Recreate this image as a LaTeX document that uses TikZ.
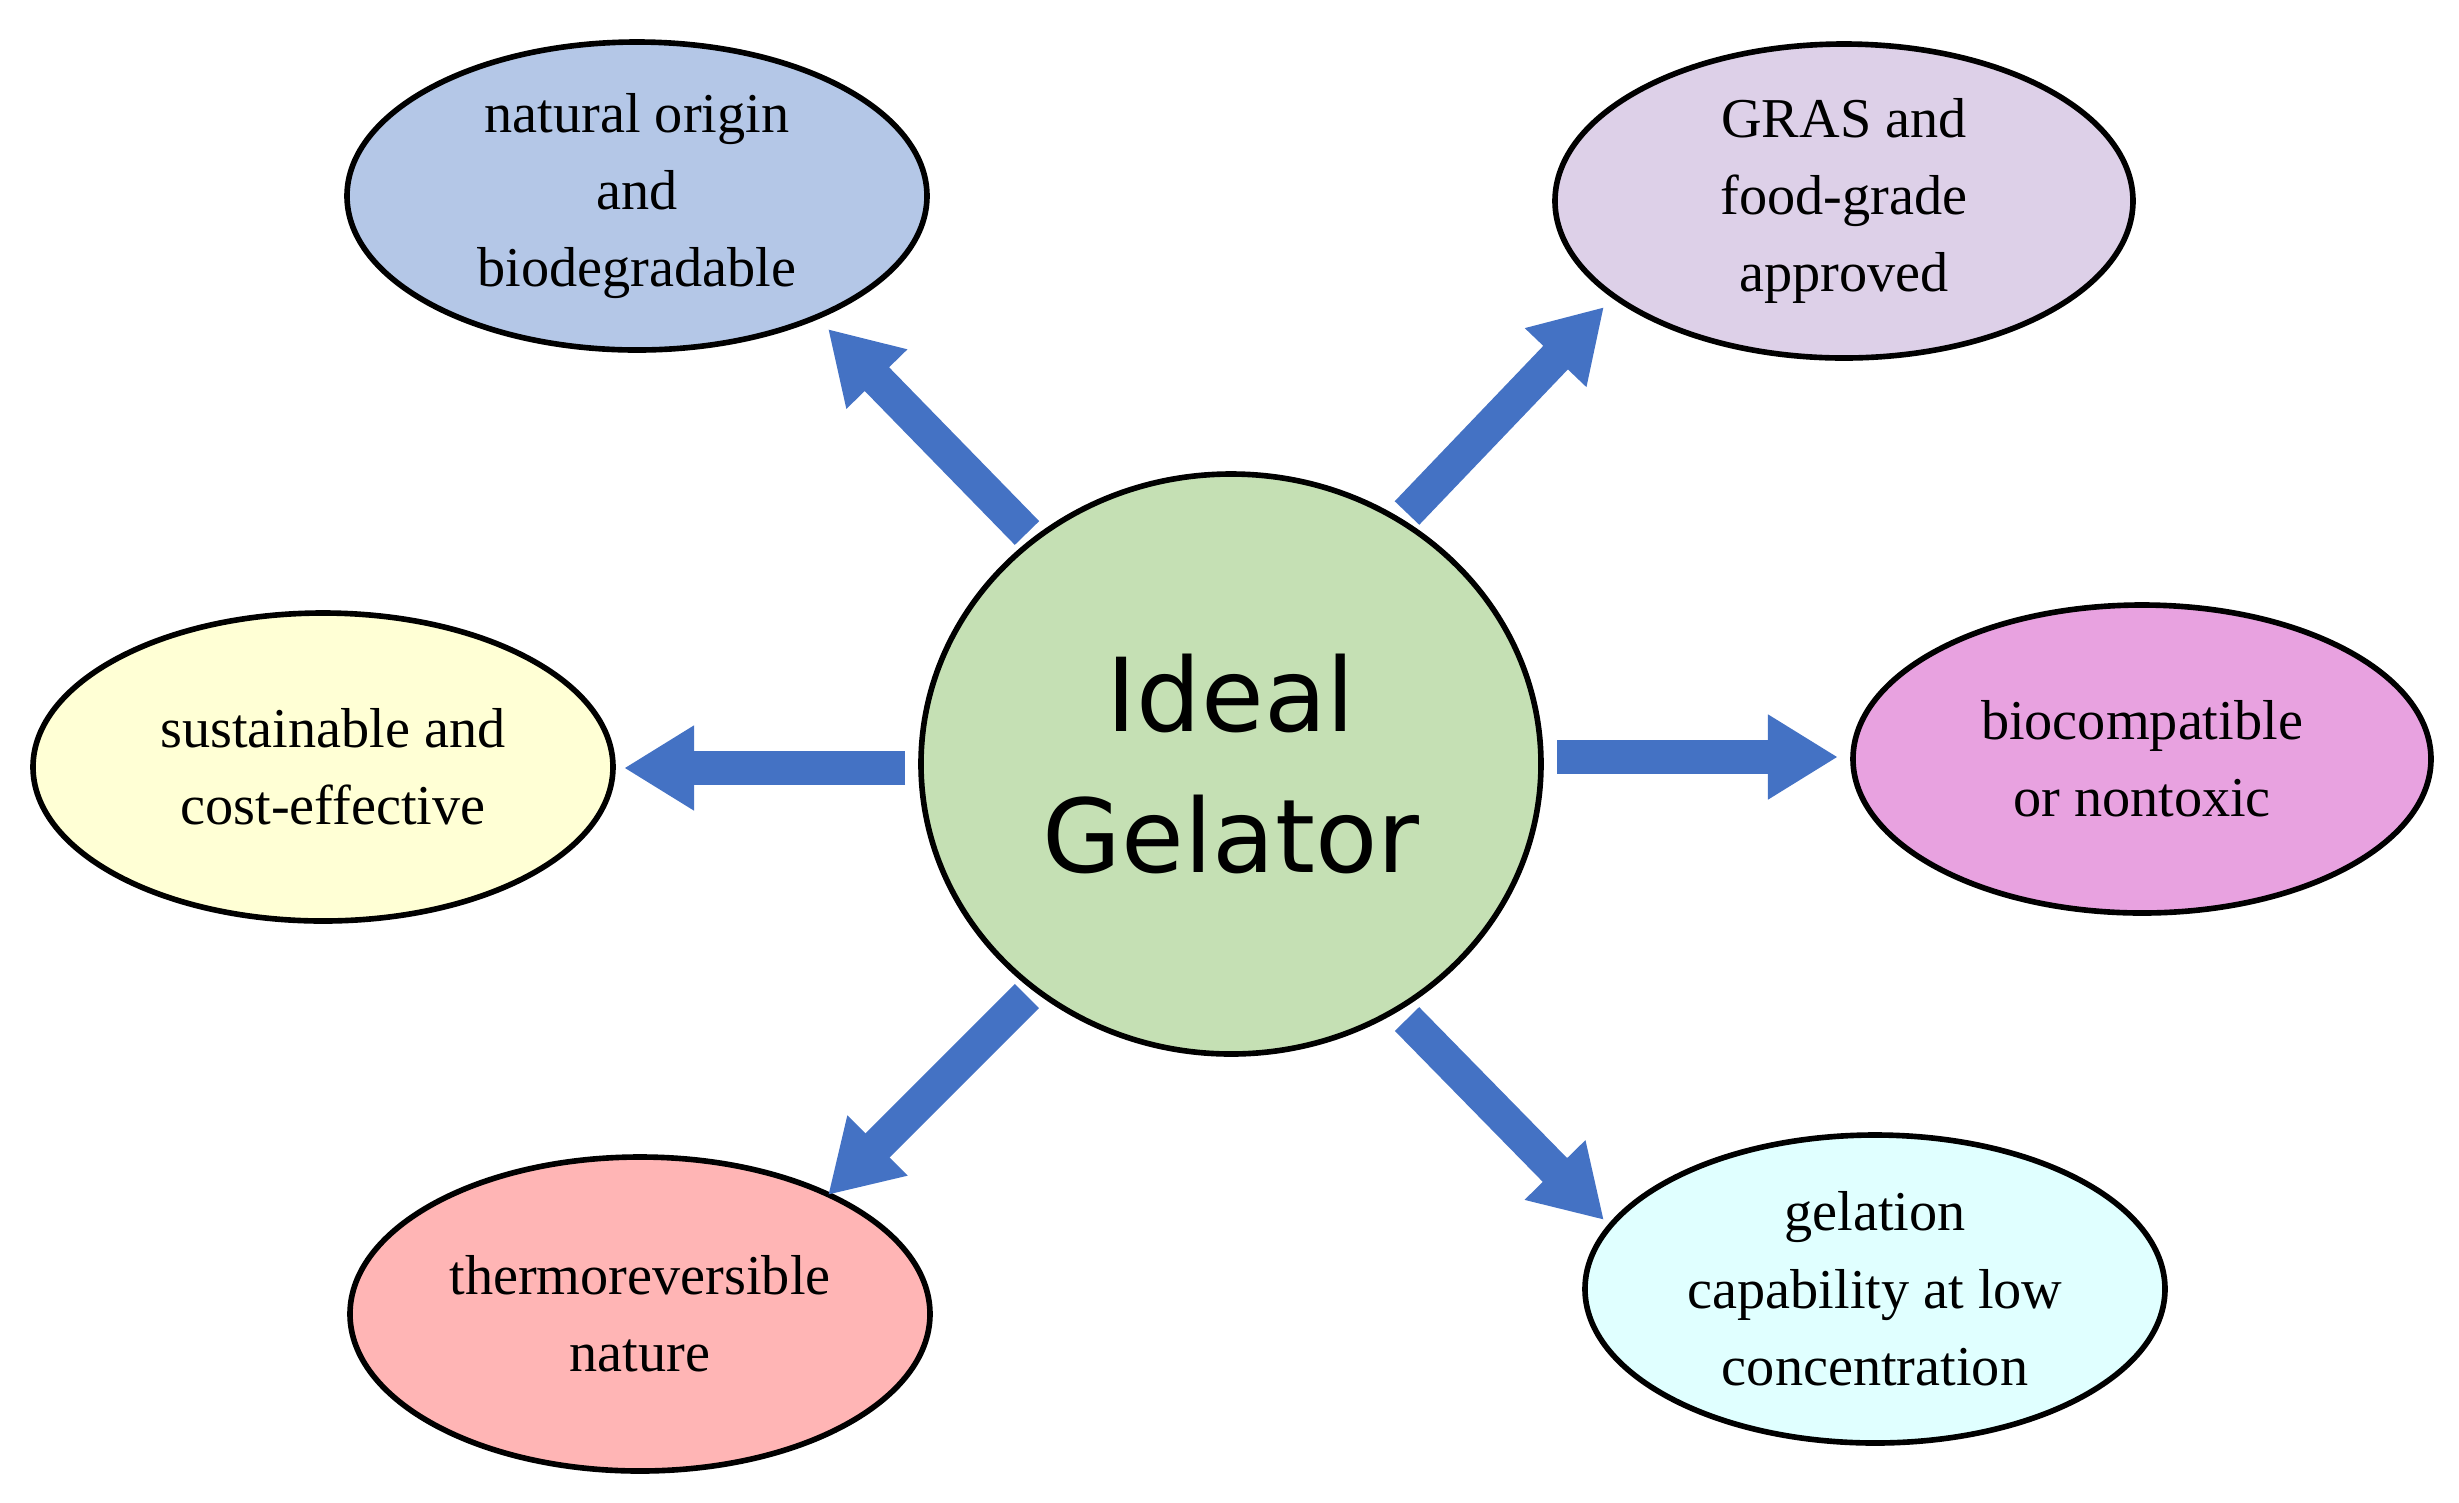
\documentclass[tikz,border=0pt]{standalone}
\usepackage{fontspec}
\setmainfont{Liberation Serif}
\newfontfamily\cen{DejaVu Sans}
\usetikzlibrary{arrows.meta}
\definecolor{ab}{HTML}{4472C4}
\tikzset{
 el/.style={draw=black, line width=1.6pt, ellipse, inner sep=0pt, align=center,
   font=\fontsize{16pt}{22pt}\selectfont},
 ar/.style={draw=ab, line width=0.34cm, -{Triangle[length=0.7cm,width=0.8cm]}, shorten >=0pt}
}
\begin{document}
\begin{tikzpicture}[x=0.01cm,y=-0.01cm]
\useasboundingbox (0,0) rectangle (2459,1502);
\draw[fill={rgb,255:red,197;green,224;blue,180}, line width=1.6pt] (1231,764) ellipse [x radius=310, y radius=290];
\node[align=center, font=\cen\fontsize{29pt}{40pt}\selectfont] (c) at (1231,764) {Ideal\\Gelator};
\draw[fill={rgb,255:red,180;green,199;blue,231}, line width=1.6pt] (637,196) ellipse [x radius=290, y radius=154];
\node[align=center,font=\fontsize{16pt}{22pt}\selectfont] (tl) at (637,196) {natural origin\\and\\biodegradable};
\draw[fill={rgb,255:red,221;green,208;blue,232}, line width=1.6pt] (1844,201) ellipse [x radius=289, y radius=157];
\node[align=center,font=\fontsize{16pt}{22pt}\selectfont] (tr) at (1844,201) {GRAS and\\food-grade\\approved};
\draw[fill={rgb,255:red,255;green,255;blue,213}, line width=1.6pt] (323,767) ellipse [x radius=290, y radius=154];
\node[align=center,font=\fontsize{16pt}{22pt}\selectfont] (l) at (333,767) {sustainable and\\cost-effective};
\draw[fill={rgb,255:red,232;green,162;blue,224}, line width=1.6pt] (2142,759) ellipse [x radius=289, y radius=154];
\node[align=center,font=\fontsize{16pt}{22pt}\selectfont] (r) at (2142,759) {biocompatible\\or nontoxic};
\draw[fill={rgb,255:red,255;green,181;blue,181}, line width=1.6pt] (640,1314) ellipse [x radius=290, y radius=157];
\node[align=center,font=\fontsize{16pt}{22pt}\selectfont] (bl) at (640,1314) {thermoreversible\\nature};
\draw[fill={rgb,255:red,224;green,255;blue,255}, line width=1.6pt] (1875,1289) ellipse [x radius=290, y radius=154];
\node[align=center,font=\fontsize{16pt}{22pt}\selectfont] (br) at (1875,1289) {gelation\\capability at low\\concentration};
\coordinate (a1) at (1027,533); \coordinate (b1) at (828,329);
\coordinate (a2) at (1407,513); \coordinate (b2) at (1604,307);
\coordinate (a3) at (905,768); \coordinate (b3) at (624,768);
\coordinate (a4) at (1557,757); \coordinate (b4) at (1838,757);
\coordinate (a5) at (1027,996); \coordinate (b5) at (828,1195);
\coordinate (a6) at (1407,1019); \coordinate (b6) at (1604,1220);
\foreach \i in {1,...,6} \draw[ar] (a\i) -- (b\i);
\end{tikzpicture}
\end{document}
